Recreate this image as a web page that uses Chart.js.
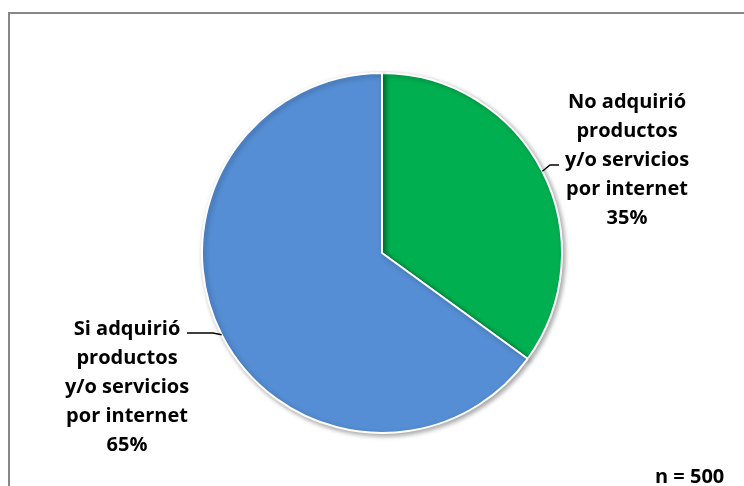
<!DOCTYPE html>
<html>
<head>
<meta charset="utf-8">
<script src="https://cdn.jsdelivr.net/npm/chart.js@4.4.1/dist/chart.umd.min.js"></script>
<style>
  html, body { margin: 0; padding: 0; background: #fff; overflow: hidden; }
  #wrap { position: relative; width: 744px; height: 486px; }
  #frame { position: absolute; left: 8px; top: 12px; width: 900px; height: 700px;
           border: 2px solid #888; box-sizing: border-box; }
  canvas { position: absolute; left: 0; top: 0; }
</style>
</head>
<body>
<div id="wrap">
  <div id="frame"></div>
  <canvas id="pie" width="744" height="486"></canvas>
</div>
<script>
const categories = [
  ['No adquirió', 'productos', 'y/o servicios', 'por internet'],
  ['Si adquirió', 'productos', 'y/o servicios', 'por internet']
];
const percents = [35, 65];
const colors = ['#00B050', '#558ED5'];
const sampleNote = 'n = 500';

const FONT = 'bold 20px "Open Sans", sans-serif';
const LINE_H = 29;

// label block centre x / first baseline y, and the elbow of each leader line
const labelLayout = [
  { x: 627, y: 108, elbow: [550, 165], end: [559, 165] },
  { x: 127, y: 335, elbow: [213, 333], end: [187, 333] }
];

const shadowPlugin = {
  id: 'sliceShadow',
  beforeDatasetDraw(chart) {
    const ctx = chart.ctx;
    ctx.save();
    ctx.shadowColor = 'rgba(0,0,0,0.35)';
    ctx.shadowBlur = 5;
    ctx.shadowOffsetX = 2;
    ctx.shadowOffsetY = 2;
  },
  afterDatasetDraw(chart) {
    chart.ctx.restore();
  }
};

const labelPlugin = {
  id: 'sliceLabels',
  afterDatasetsDraw(chart) {
    const ctx = chart.ctx;
    const meta = chart.getDatasetMeta(0);
    ctx.save();
    ctx.font = FONT;
    ctx.fillStyle = '#000';
    ctx.textAlign = 'center';
    ctx.textBaseline = 'alphabetic';
    meta.data.forEach((arc, i) => {
      const p = arc.getProps(['x', 'y', 'startAngle', 'endAngle', 'outerRadius'], true);
      const mid = (p.startAngle + p.endAngle) / 2;
      const ex = p.x + Math.cos(mid) * p.outerRadius;
      const ey = p.y + Math.sin(mid) * p.outerRadius;
      const lay = labelLayout[i];
      ctx.strokeStyle = '#000';
      ctx.lineWidth = 1.5;
      ctx.beginPath();
      ctx.moveTo(ex, ey);
      ctx.lineTo(lay.elbow[0], lay.elbow[1]);
      ctx.lineTo(lay.end[0], lay.end[1]);
      ctx.stroke();
      const lines = categories[i].concat([chart.data.datasets[0].data[i] + '%']);
      lines.forEach((t, k) => ctx.fillText(t, lay.x, lay.y + k * LINE_H));
    });
    ctx.textAlign = 'left';
    ctx.fillText(sampleNote, 655, 483);
    ctx.restore();
  }
};

new Chart(document.getElementById('pie'), {
  type: 'pie',
  data: {
    labels: categories.map(c => c.join(' ')),
    datasets: [{
      data: percents,
      backgroundColor: colors,
      borderColor: '#fff',
      borderWidth: 2
    }]
  },
  options: {
    responsive: false,
    animation: false,
    layout: { padding: { top: 72, bottom: 52, left: 201, right: 181 } },
    plugins: {
      legend: { display: false },
      tooltip: { enabled: false }
    }
  },
  plugins: [shadowPlugin, labelPlugin]
});
</script>
</body>
</html>
